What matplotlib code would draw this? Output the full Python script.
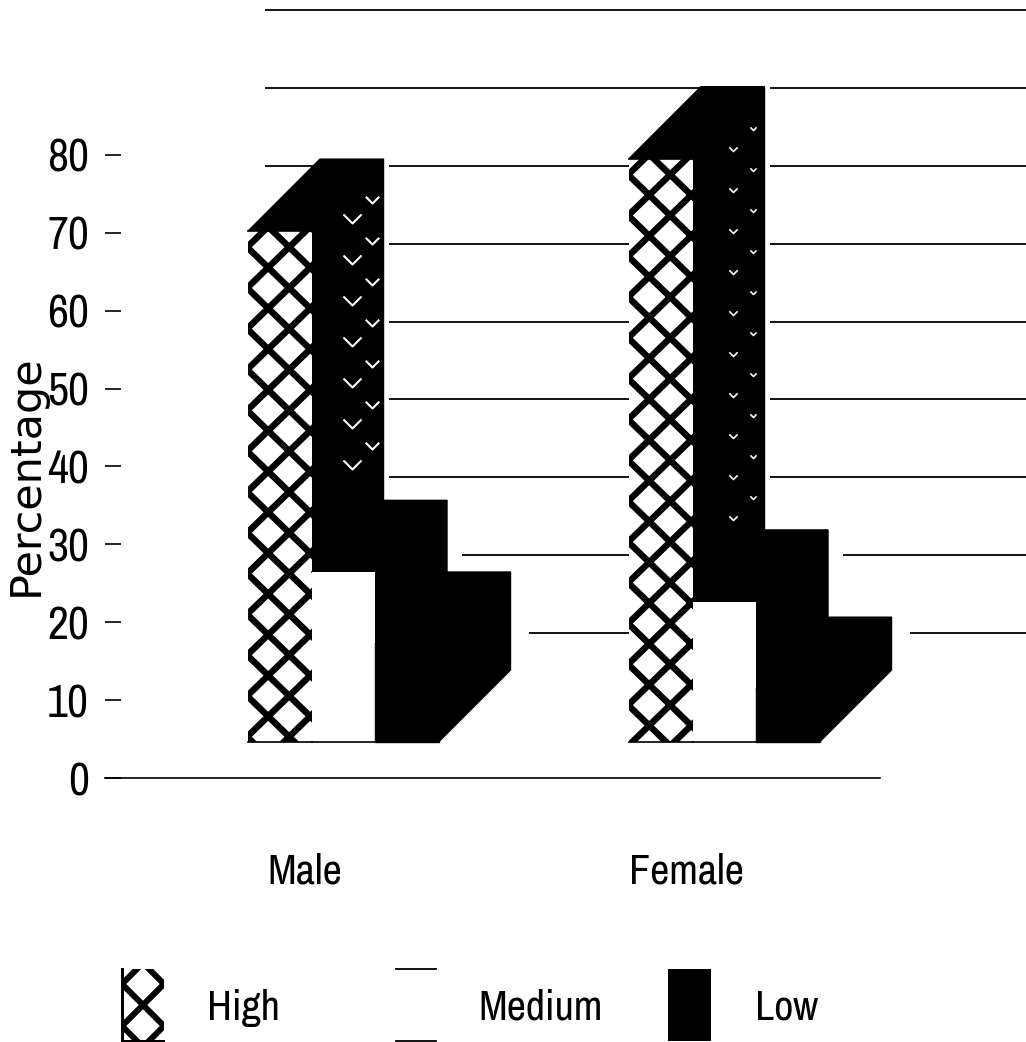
import matplotlib
matplotlib.use("Agg")
import matplotlib.pyplot as plt
from matplotlib import font_manager as fm
from matplotlib.patches import Polygon, Rectangle
from matplotlib.path import Path
import numpy as np

# Survey shares per group and level
groups = ["Male", "Female"]
levels = ["High", "Medium", "Low"]
male_values = [70.2, 26.4, 17.2]
female_values = [79.5, 22.6, 11.4]
y_ticks = [0, 10, 20, 30, 40, 50, 60, 70, 80]
wall_lines = [18.6, 28.6, 38.6, 48.6, 58.6, 68.6, 78.6, 88.6, 98.6]

W, H = 1026, 1042
DPI = 100
PX = 72 / DPI
installed = {f.name for f in fm.fontManager.ttflist}
NARROW = next(
    (n for n in ("Liberation Sans Narrow", "Archivo Narrow", "PT Sans Narrow", "Roboto Condensed", "Liberation Sans")
     if n in installed),
    "DejaVu Sans",
)
TICK_SIZE = 46 * PX
LABEL_SIZE = 42 * PX

fig = plt.figure(figsize=(W / DPI, H / DPI), dpi=DPI, facecolor="white")

# Main axes: one x unit is one bar width, y is read on the percentage scale
AX_L, AX_R, AX_B = 105, 1026, 778
BAR_PX = 63.5
Y_PX = 7.79
ax = fig.add_axes([AX_L / W, 1 - AX_B / H, (AX_R - AX_L) / W, AX_B / H])
ax.set_xlim((AX_L - 248) / BAR_PX, (AX_R - 248) / BAR_PX)
ax.set_ylim(0, AX_B / Y_PX)
ax.set_facecolor("white")

DX = 72 / BAR_PX
DY = 72 / Y_PX
FLOOR = 36 / Y_PX
GROUP_X = [0, 6]
LABEL_SHIFT = 0.9
INK = "#000000"

for side in ("top", "left", "right"):
    ax.spines[side].set_visible(False)
ax.spines["bottom"].set_bounds(ax.get_xlim()[0], (880 - 248) / BAR_PX)
ax.spines["bottom"].set_linewidth(1.2)

ax.set_yticks(y_ticks)
ax.set_yticklabels([str(t) for t in y_ticks], fontfamily=NARROW, fontsize=TICK_SIZE)
ax.tick_params(axis="y", direction="in", length=16 * PX, width=1.2, pad=16 * PX, color=INK)
ax.set_xticks([g + LABEL_SHIFT for g in GROUP_X])
ax.set_xticklabels(groups, fontfamily=NARROW, fontsize=LABEL_SIZE)
ax.tick_params(axis="x", length=0, pad=74 * PX)
ax.set_ylabel("Percentage", fontfamily="DejaVu Sans", fontsize=31)
ax.yaxis.set_label_coords((47 - AX_L) / (AX_R - AX_L), (AX_B - 475) / AX_B)

# Back-wall rules run behind the bars and out past the plot on the right
ax.hlines(wall_lines, (265 - 248) / BAR_PX, ax.get_xlim()[1], color=INK, lw=1.3, zorder=1, clip_on=False)

HALO_PX = {"High": 5, "Medium": 15, "Low": 18}


def draw_lattice(x0, y_top, lw=6.5):
    """Diagonal cross-hatch for the front face of a High bar, anchored to its top."""
    clip = Rectangle((x0, FLOOR), 1, y_top - FLOOR, transform=ax.transData)
    slope = 40.8 / 42 * BAR_PX / Y_PX
    step = 40.8 / Y_PX
    xs = np.array([x0 - 1, x0 + 2])
    rising = y_top - 56 / Y_PX
    falling = y_top + 24 / Y_PX
    for k in range(-20, 6):
        for sign, anchor in ((1, rising), (-1, falling)):
            ln, = ax.plot(xs, anchor + k * step + sign * slope * (xs - x0), color=INK,
                          lw=lw * PX, zorder=6, solid_capstyle="butt")
            ln.set_clip_path(clip)


def draw_side_flecks(x0, y_top, y_stop, size, mew):
    """Worn-through crosshatch specks on the dark side face of a High bar."""
    marker = Path([(-1, 1), (0, 0), (1, 1)], [Path.MOVETO, Path.LINETO, Path.LINETO])
    step = 41 / Y_PX
    ys = np.arange(y_top - 8.2, y_stop, -step)
    ax.plot(np.full_like(ys, x0 + 1 + 40 / BAR_PX), ys, ls="none", marker=marker, ms=size,
            mfc="none", mec="white", mew=mew, zorder=4.5)
    ax.plot(np.full_like(ys, x0 + 1 + 60 / BAR_PX), ys + 2.6, ls="none", marker=marker, ms=size * 0.75,
            mfc="none", mec="white", mew=mew, zorder=4.5)


for g, vals in zip(GROUP_X, (male_values, female_values)):
    for i, (name, v) in enumerate(zip(levels, vals)):
        x0 = g + i
        x1 = x0 + 1
        z = 3 + i * 2
        # clearing strip beside the bar so wall rules stop short of it
        ax.add_patch(Rectangle((x1 + DX, FLOOR + DY), HALO_PX[name] / BAR_PX, v - FLOOR, fc="white", ec="none", zorder=1.5))
        ax.add_patch(Polygon([(x0, v), (x0 + DX, v + DY), (x1 + DX, v + DY), (x1, v)], fc=INK, ec=INK, lw=1, zorder=z))
        ax.add_patch(Polygon([(x1, FLOOR), (x1 + DX, FLOOR + DY), (x1 + DX, v + DY), (x1, v)], fc=INK, ec=INK, lw=1, zorder=z))
        if name == "Low":
            ax.add_patch(Rectangle((x0, FLOOR), 1, v - FLOOR, fc=INK, ec=INK, lw=1, zorder=z + 1))
        else:
            ax.add_patch(Rectangle((x0, FLOOR), 1, v - FLOOR, fc="white", ec="none", zorder=z + 1))
        if name == "Medium":
            ax.plot([x0, x1], [FLOOR, FLOOR], color=INK, lw=1.2, zorder=z + 1.2)
        if name == "High":
            draw_lattice(x0, v)
            ax.plot([x0, x1], [FLOOR, FLOOR], color=INK, lw=1.2, zorder=6.2)
            ax.plot([x0, x1], [v, v], color=INK, lw=1.2, zorder=6.2)
            if g == 0:
                draw_side_flecks(x0, v + DY, vals[1] + DY + 1, 13, 1.5)
            else:
                draw_side_flecks(x0, v + DY, vals[1] + DY + 1, 6, 1.2)

# Overlay in pixel coordinates for the legend
ov = fig.add_axes([0, 0, 1, 1], facecolor="none")
ov.set_xlim(0, W)
ov.set_ylim(H, 0)
ov.axis("off")

LEG_TOP, LEG_BOT = 969, 1041
# High swatch
clip = Rectangle((122, LEG_TOP), 42, LEG_BOT - LEG_TOP, transform=ov.transData)
for sign in (1, -1):
    for c in (-42, 0, 42):
        xs = np.array([100, 190])
        ln, = ov.plot(xs, 1005 + sign * (xs - 143) + c, color=INK, lw=6 * PX)
        ln.set_clip_path(clip)
ov.plot([122, 122], [LEG_TOP, LEG_BOT], color=INK, lw=3 * PX)
ov.plot([122, 164], [LEG_BOT, LEG_BOT], color=INK, lw=2 * PX)
# Medium swatch
ov.plot([396, 436], [LEG_TOP, LEG_TOP], color=INK, lw=1.3)
ov.plot([396, 436], [LEG_BOT, LEG_BOT], color=INK, lw=1.3)
# Low swatch
ov.add_patch(Rectangle((668, LEG_TOP), 43, LEG_BOT - LEG_TOP, fc=INK, ec="none"))

for txt, x in zip(levels, (207, 478, 755)):
    ov.text(x, 1008, txt, fontfamily=NARROW, fontsize=LABEL_SIZE, ha="left", va="center")

fig.savefig("out.png", dpi=DPI, facecolor="white")
